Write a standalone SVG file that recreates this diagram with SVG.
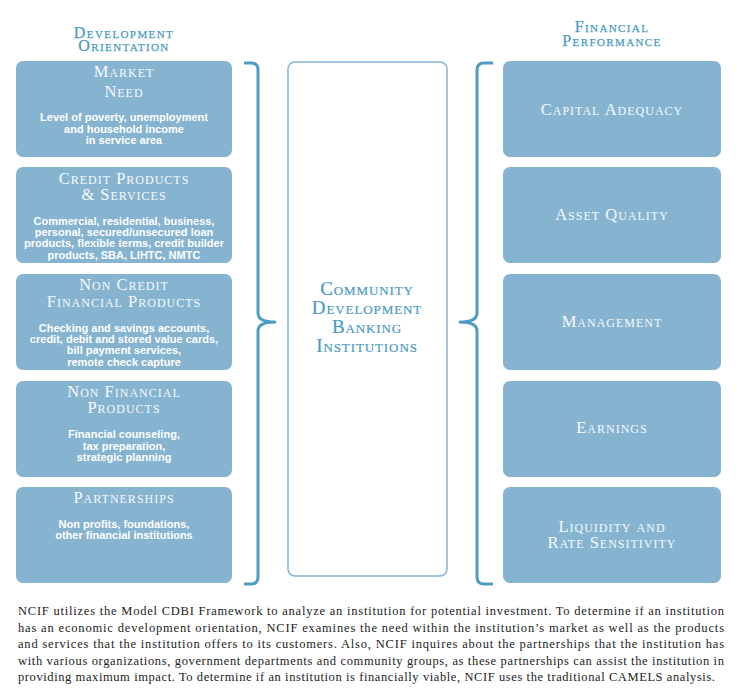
<svg xmlns="http://www.w3.org/2000/svg" width="739" height="694" viewBox="0 0 739 694">
<style>
.box{fill:#85b3d0;}
.hd{font-family:"Liberation Serif",serif;font-variant:small-caps;font-size:16px;letter-spacing:1.4px;fill:#4a9bc2;stroke:#4a9bc2;stroke-width:0.25px;text-anchor:middle;}
.tt{font-family:"Liberation Serif",serif;font-variant:small-caps;font-size:16.5px;letter-spacing:1px;fill:#f7fafc;text-anchor:middle;}
.bd{font-family:"Liberation Sans",Arial,sans-serif;font-weight:bold;font-size:11px;fill:#ffffff;text-anchor:middle;}
.ct{font-family:"Liberation Serif",serif;font-variant:small-caps;font-size:19px;letter-spacing:0.9px;fill:#4a9bc2;stroke:#4a9bc2;stroke-width:0.2px;text-anchor:middle;}
.brace{fill:none;stroke:#4f9bc2;stroke-width:3;stroke-linejoin:round;}
.para{font-family:"Liberation Serif","Times New Roman",serif;font-size:12.5px;fill:#222;}
</style>
<rect width="739" height="694" fill="#ffffff"/>
<g id="headings">
<text class="hd" x="124" y="38">Development</text>
<text class="hd" x="124" y="51">Orientation</text>
<text class="hd" x="612" y="32">Financial</text>
<text class="hd" x="612" y="46">Performance</text>
</g>
<g id="market-need">
<rect class="box" x="16" y="61" width="216" height="96" rx="7"/>
<text class="tt" x="124" y="77">Market</text>
<text class="tt" x="124" y="97">Need</text>
<text class="bd" x="124" y="121">Level of poverty, unemployment</text>
<text class="bd" x="124" y="133">and household income</text>
<text class="bd" x="124" y="144">in service area</text>
</g>
<g id="credit-products">
<rect class="box" x="16" y="167" width="216" height="96" rx="7"/>
<text class="tt" x="124" y="184">Credit Products</text>
<text class="tt" x="124" y="200">&amp; Services</text>
<text class="bd" x="124" y="225">Commercial, residential, business,</text>
<text class="bd" x="124" y="236">personal, secured/unsecured loan</text>
<text class="bd" x="124" y="247">products, flexible terms, credit builder</text>
<text class="bd" x="124" y="259">products, SBA, LIHTC, NMTC</text>
</g>
<g id="non-credit">
<rect class="box" x="16" y="274" width="216" height="96" rx="7"/>
<text class="tt" x="124" y="290">Non Credit</text>
<text class="tt" x="124" y="307">Financial Products</text>
<text class="bd" x="124" y="332">Checking and savings accounts,</text>
<text class="bd" x="124" y="343">credit, debit and stored value cards,</text>
<text class="bd" x="124" y="354">bill payment services,</text>
<text class="bd" x="124" y="366">remote check capture</text>
</g>
<g id="non-financial">
<rect class="box" x="16" y="381" width="216" height="96" rx="7"/>
<text class="tt" x="124" y="397">Non Financial</text>
<text class="tt" x="124" y="413">Products</text>
<text class="bd" x="124" y="438">Financial counseling,</text>
<text class="bd" x="124" y="450">tax preparation,</text>
<text class="bd" x="124" y="461">strategic planning</text>
</g>
<g id="partnerships">
<rect class="box" x="16" y="487" width="216" height="96" rx="7"/>
<text class="tt" x="124" y="503">Partnerships</text>
<text class="bd" x="124" y="528">Non profits, foundations,</text>
<text class="bd" x="124" y="539">other financial institutions</text>
</g>
<g id="cdbi">
<rect x="288" y="62" width="159" height="514" rx="7" fill="#ffffff" stroke="#7fb4d2" stroke-width="1.5"/>
<text class="ct" x="367" y="295">Community</text>
<text class="ct" x="367" y="314">Development</text>
<text class="ct" x="367" y="333">Banking</text>
<text class="ct" x="367" y="352">Institutions</text>
</g>
<g id="capital-adequacy">
<rect class="box" x="503" y="61" width="218" height="96" rx="7"/>
<text class="tt" x="612" y="115">Capital Adequacy</text>
</g>
<g id="asset-quality">
<rect class="box" x="503" y="167" width="218" height="96" rx="7"/>
<text class="tt" x="612" y="220">Asset Quality</text>
</g>
<g id="management">
<rect class="box" x="503" y="274" width="218" height="96" rx="7"/>
<text class="tt" x="612" y="327">Management</text>
</g>
<g id="earnings">
<rect class="box" x="503" y="381" width="218" height="96" rx="7"/>
<text class="tt" x="612" y="433">Earnings</text>
</g>
<g id="liquidity">
<rect class="box" x="503" y="487" width="218" height="96" rx="7"/>
<text class="tt" x="612" y="532">Liquidity and</text>
<text class="tt" x="612" y="548">Rate Sensitivity</text>
</g>
<g id="connectors">
<path class="brace" d="M244,63 H251 Q258,63 258,70 V313 Q258,322 275,322 Q258,322 258,331 V577 Q258,584 251,584 H244"/>
<path class="brace" d="M493,63 H484 Q477,63 477,70 V313 Q477,322 460,322 Q477,322 477,331 V577 Q477,584 484,584 H493"/>
</g>
<g id="paragraph">
<text class="para" x="18" y="615" textLength="706" lengthAdjust="spacing">NCIF utilizes the Model CDBI Framework to analyze an institution for potential investment. To determine if an institution</text>
<text class="para" x="18" y="632" textLength="706" lengthAdjust="spacing">has an economic development orientation, NCIF examines the need within the institution’s market as well as the products</text>
<text class="para" x="18" y="648" textLength="706" lengthAdjust="spacing">and services that the institution offers to its customers. Also, NCIF inquires about the partnerships that the institution has</text>
<text class="para" x="18" y="665" textLength="706" lengthAdjust="spacing">with various organizations, government departments and community groups, as these partnerships can assist the institution in</text>
<text class="para" x="18" y="681" textLength="697" lengthAdjust="spacing">providing maximum impact. To determine if an institution is financially viable, NCIF uses the traditional CAMELS analysis.</text>
</g>
</svg>
